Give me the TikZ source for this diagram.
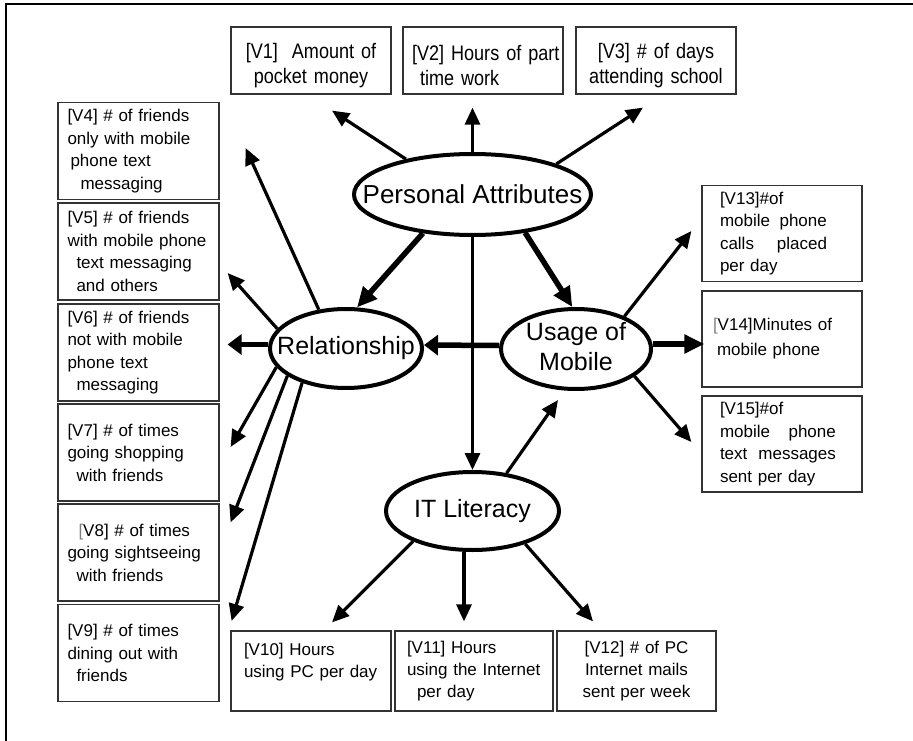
\documentclass[tikz,border=0pt]{standalone}
\usepackage{fontspec}
\setmainfont{Liberation Sans}
\newfontfamily\narrowfont[FakeStretch=0.86]{Liberation Sans}
\usetikzlibrary{arrows.meta,calc,shapes.geometric}
\newcommand{\topstrut}{\rule{0pt}{26pt}}
\tikzset{
	factor/.style={draw, ellipse, line width=4pt, inner sep=0pt, font=\fontsize{25}{30}\selectfont},
	var/.style={draw=black!80, line width=1.2pt, rectangle, inner ysep=0pt, align=left},
	topbox/.style={var, minimum width=160pt, minimum height=67pt, text width=152pt, inner xsep=4pt, font=\narrowfont\fontsize{21}{25}\selectfont},
	sidebox/.style={var, minimum width=161pt, minimum height=97pt, text width=142pt, inner xsep=9.5pt, font=\fontsize{17}{22.5}\selectfont},
	rightbox/.style={var, minimum width=160pt, minimum height=96pt, text width=124pt, inner xsep=18pt, font=\fontsize{17}{22.5}\selectfont},
	botbox/.style={var, minimum width=160pt, minimum height=80pt, text width=134pt, inner xsep=13pt, font=\fontsize{17}{22}\selectfont},
	arr/.style={line width=3.2pt, -{Triangle[length=17pt,width=15pt]}},
	fatarr/.style={line width=5.5pt, -{Triangle[length=20pt,width=18pt]}}
}

\begin{document}
\begin{tikzpicture}[x=1pt, y=-1pt]
		%%%%% START %%%%%
		\useasboundingbox (0,0) rectangle (913,741);
		\draw[line width=2.8pt] (6,741) -- (6,4) -- (913,4);
		
		% latent factors
		\node[factor, minimum width=237pt, minimum height=81pt, font=\fontsize{26}{30}\selectfont] (pa) at (472.5,194.5) {\makebox[0pt]{Personal Attributes}};
		\node[factor, minimum width=152pt, minimum height=79pt] (rel) at (346,348.5) {\makebox[0pt]{Relationship}};
		\node[factor, minimum width=150pt, minimum height=80pt, inner ysep=-10pt] (usage) at (576,349) {\makebox[0pt]{\begin{tabular}{@{}c@{}}Usage of\\Mobile\end{tabular}}};
		\node[factor, minimum width=173pt, minimum height=78pt] (it) at (472.5,511) {\makebox[0pt]{IT Literacy}};
		
		% top row
		\node[topbox, align=center] (v1) at (311,60.5) {\topstrut[V1]~ Amount of\\pocket money};
		\node[topbox] (v2) at (483,60.5) {\topstrut\hspace*{5pt}\mbox{[V2] Hours of part}\\\hspace*{13pt}time work};
		\node[topbox, align=center] (v3) at (656,60.5) {\topstrut[V3] \# of days\\attending school};
		
		% left column
		\node[sidebox] (v4) at (138.5,151) {[V4] \# of friends\\only with mobile\\\hspace*{3pt}phone text\\\hspace*{13pt}messaging};
		\node[sidebox] (v5) at (138.5,251.5) {[V5] \# of friends\\with mobile phone\\\hspace*{9pt}text messaging\\\hspace*{9pt}and others};
		\node[sidebox] (v6) at (138.5,352.5) {[V6] \# of friends\\not with mobile\\phone text\\\hspace*{9pt}messaging};
		\node[sidebox] (v7) at (138.5,452.5) {[V7] \# of times\\going shopping\\\hspace*{9pt}with friends};
		\node[sidebox] (v8) at (138.5,552.5) {\hspace*{11pt}\textcolor{gray}{[}V8] \# of times\\going sightseeing\\\hspace*{9pt}with friends};
		\node[sidebox] (v9) at (138.5,653) {[V9] \# of times\\dining out with\\\hspace*{9pt}friends};
		
		% bottom row
		\node[botbox] (v10) at (311,671) {[V10] Hours\\using PC per day\\\mbox{}};
		\node[botbox, minimum width=158pt, inner xsep=12pt] (v11) at (474,671) {[V11] Hours\\using the Internet\\\hspace*{10pt}per day};
		\node[botbox, align=center, minimum width=159pt, text width=135pt, inner xsep=12pt] (v12) at (636.5,671) {[V12] \# of PC\\Internet mails\\sent per week};
		
		% right column
		\node[rightbox] (v13) at (782,233.5) {[V13]\#of\\mobile\hspace{9.5pt}phone\\calls\hspace{23pt}placed\\per day};
		\node[rightbox] (v14) at (782,339) {\hspace*{-7pt}\textcolor{gray}{[}V14]Minutes of\\[2.5pt]\hspace*{-3pt}mobile phone};
		\node[rightbox] (v15) at (782,444) {[V15]\#of\\mobile\hspace{18.5pt}phone\\text\hspace{11pt}messages\\sent per day};
		
		% Personal Attributes
		\draw[arr] (pa.152) -- ($(v1.south)+(21,16)$);
		\draw[arr] (pa.north) -- ($(v2.south)+(-10.5,13)$);
		\draw[arr] (pa.20) -- ($(v3.south)+(-13,13)$);
		\draw[fatarr] (pa.218) -- (rel.75);
		\draw[fatarr] (pa.-36) -- (usage.95);
		\draw[arr] (pa.south) -- (it.north);
		
		% Usage of Mobile
		\draw[fatarr, -{Triangle[length=14pt,width=20pt]}] ([yshift=3.5pt]usage.west) -- ([yshift=3.5pt]rel.east);
		\draw[arr] (usage.34) -- ($(v13.west)+(-10,-2.5)$);
		\draw[fatarr] ([yshift=5pt]usage.east) -- ($(v14.west)+(3,5)$);
		\draw[arr] (usage.-25) -- ($(v15.west)+(-10,-2)$);
		
		% Relationship
		\draw[arr] (rel.125) -- ($(v4.east)+(26,-3)$);
		\draw[arr] (rel.164) -- ($(v5.east)+(8,21.5)$);
		\draw[fatarr, -{Triangle[length=14pt,width=20pt]}] ([yshift=4pt]rel.west) -- ($(v6.east)+(8,-8)$);
		\draw[arr] (rel.195) -- ($(v7.east)+(11,-5.5)$);
		\draw[arr] (rel.205) -- ($(v8.north east)+(11,19)$);
		\draw[arr] (rel.218) -- ($(v9.north east)+(12,17)$);
		
		% IT Literacy
		\draw[arr] (it.48) -- ($(usage.south)+(-18,9)$);
		\draw[arr] (it.207) -- ($(v10.north)+(21,-8)$);
		\draw[arr] ($(it.south)+(-8.5,0)$) -- ($(v11.north)+(-10,-9)$);
		\draw[arr] (it.-32) -- ($(v12.north)+(-43.5,-9)$);
		%%%%% END %%%%%
\end{tikzpicture}
\end{document}
